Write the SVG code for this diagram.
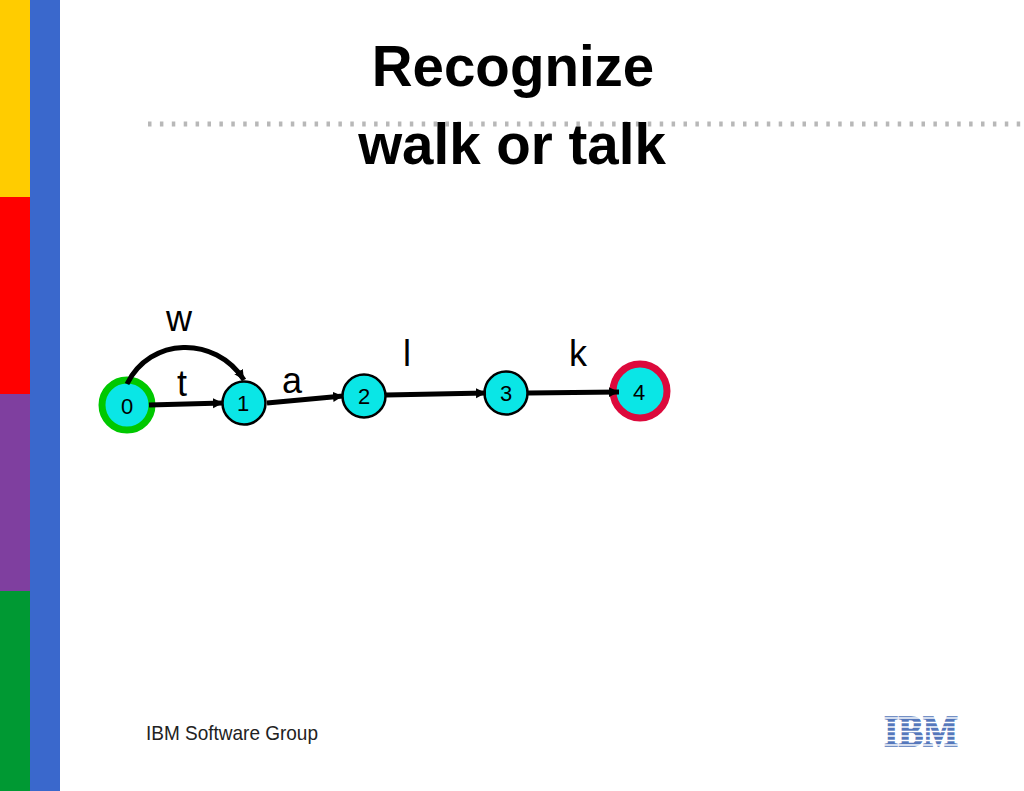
<svg xmlns="http://www.w3.org/2000/svg" width="1024" height="791" viewBox="0 0 1024 791">
<style>
text{font-family:"Liberation Sans",Arial,sans-serif;fill:#000}
.title{font-size:56.5px;font-weight:bold;text-anchor:middle}
.lab{font-size:36px;text-anchor:middle}
.num{font-size:22px;text-anchor:middle}
.st{fill:#0ae6e6;stroke:#000;stroke-width:2.5}
.e{fill:none;stroke:#000;stroke-width:5}
</style>
<defs><marker id="ah" markerUnits="userSpaceOnUse" markerWidth="12" markerHeight="12" refX="10" refY="5" orient="auto"><path d="M0 0L10 5L0 10z" fill="#000"/></marker></defs>
<rect width="1024" height="791" fill="#fff"/>
<g id="sidebar">
<rect x="0" y="0" width="30" height="197" fill="#ffcc00"/>
<rect x="0" y="197" width="30" height="197" fill="#ff0000"/>
<rect x="0" y="394" width="30" height="197" fill="#7f3f9f"/>
<rect x="0" y="591" width="30" height="200" fill="#009933"/>
<rect x="30" y="0" width="30" height="791" fill="#3a68cc"/>
</g>
<line id="rule" x1="148" y1="124" x2="1024" y2="124" stroke="#b8b8b8" stroke-width="5" stroke-dasharray="3.5 8.4"/>
<text class="title" x="513" y="86">Recognize</text>
<text class="title" x="512" y="164">walk or talk</text>
<g id="s0"><circle cx="127" cy="405" r="25" fill="#0ae6e6" stroke="#00c800" stroke-width="7"/><text class="num" x="127" y="414">0</text></g>
<g id="s1"><circle class="st" cx="244" cy="403" r="21.5"/><text class="num" x="243" y="411">1</text></g>
<g id="s2"><circle class="st" cx="364" cy="396" r="21.5"/><text class="num" x="364" y="404">2</text></g>
<g id="s3"><circle class="st" cx="506" cy="393" r="21.5"/><text class="num" x="506" y="401">3</text></g>
<g id="s4"><circle cx="640" cy="391" r="27" fill="#0ae6e6" stroke="#dc0a3c" stroke-width="7"/><text class="num" x="639" y="400">4</text></g>
<g id="connectors">
<path class="e" marker-end="url(#ah)" d="M127 384C150 337 215 335 244 380"/>
<path class="e" marker-end="url(#ah)" d="M149 405L223 403"/>
<path class="e" marker-end="url(#ah)" d="M267 403L343 396"/>
<path class="e" marker-end="url(#ah)" d="M386 395L486 393"/>
<path class="e" marker-end="url(#ah)" d="M528 393L619 392"/>
</g>
<text class="lab" x="179" y="331">w</text>
<text class="lab" x="182" y="396">t</text>
<text class="lab" x="292" y="393">a</text>
<text class="lab" x="407" y="366">l</text>
<text class="lab" x="578" y="366">k</text>
<text id="group" x="146" y="740" style="font-size:21px;fill:#222" textLength="172" lengthAdjust="spacingAndGlyphs">IBM Software Group</text>
<g id="logo">
<text x="884" y="746" style="font-family:'Liberation Serif',serif;font-size:44px;font-weight:bold;fill:#5577bb;stroke:#5577bb;stroke-width:1.5" textLength="74" lengthAdjust="spacingAndGlyphs">IBM</text>
<g stroke="#fff" stroke-width="1.6"><line x1="880" y1="718" x2="962" y2="718"/><line x1="880" y1="722.5" x2="962" y2="722.5"/><line x1="880" y1="727" x2="962" y2="727"/><line x1="880" y1="731.5" x2="962" y2="731.5"/><line x1="880" y1="736" x2="962" y2="736"/><line x1="880" y1="740.5" x2="962" y2="740.5"/><line x1="880" y1="745" x2="962" y2="745"/></g>
</g>
</svg>
